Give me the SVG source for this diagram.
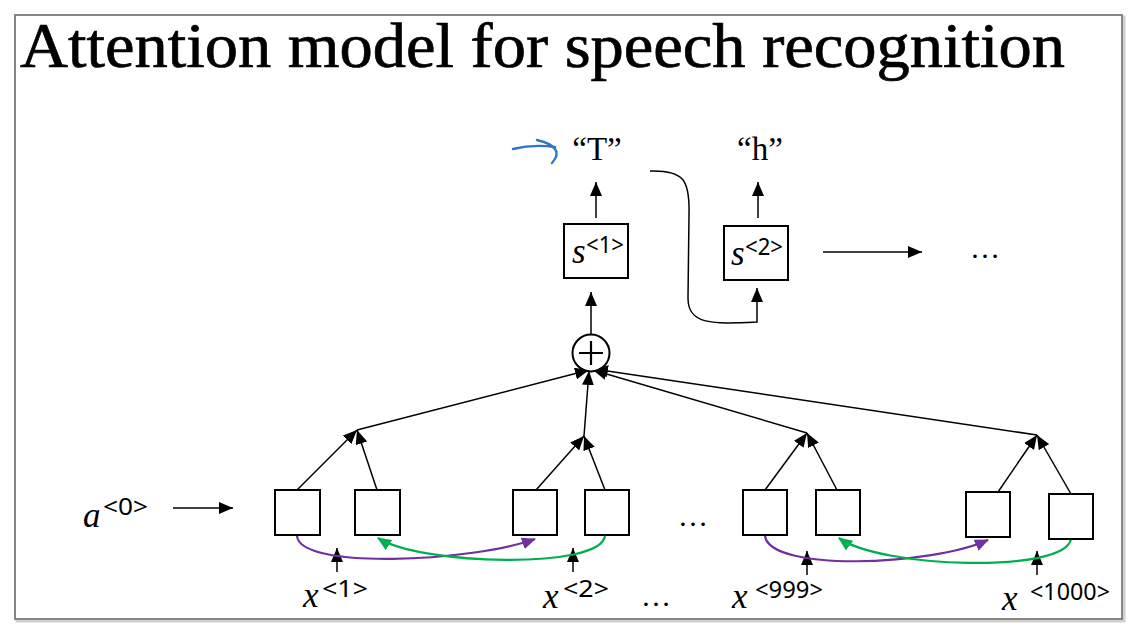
<svg xmlns="http://www.w3.org/2000/svg" width="1137" height="636" viewBox="0 0 1137 636">
<style>
.ln{stroke:#000;stroke-width:1.5;fill:none}
.box{fill:#fff;stroke:#000;stroke-width:2}
.t{font-family:"Liberation Serif",serif;fill:#000}
.v{font-family:"Liberation Serif",serif;font-style:italic;font-size:35px;fill:#000}
.sup{font-family:"Noto Sans","Liberation Sans",sans-serif;font-size:23px;fill:#000}
.pur{stroke:#7030a0;stroke-width:2.2;fill:none}
.grn{stroke:#00b050;stroke-width:2.2;fill:none}
</style>
<defs>
<marker id="ah" markerUnits="userSpaceOnUse" markerWidth="14" markerHeight="12" refX="14" refY="6" orient="auto"><path d="M0,0 L14,6 L0,12 z" fill="#000"/></marker>
<marker id="ap" markerUnits="userSpaceOnUse" markerWidth="14" markerHeight="12" refX="13" refY="6" orient="auto"><path d="M0,0 L14,6 L0,12 z" fill="#7030a0"/></marker>
<marker id="ag" markerUnits="userSpaceOnUse" markerWidth="14" markerHeight="12" refX="13" refY="6" orient="auto"><path d="M0,0 L14,6 L0,12 z" fill="#00b050"/></marker>
</defs>
<rect width="1137" height="636" fill="#fff"/>
<rect x="17" y="17" width="1107" height="604" fill="none" stroke="#d0d0d0" stroke-width="3"/>
<rect x="15" y="15" width="1107" height="604" fill="#fff" stroke="#7a7a7a" stroke-width="1.8"/>
<text class="t" x="20" y="67" font-size="64" stroke="#000" stroke-width="0.7" textLength="1045" lengthAdjust="spacingAndGlyphs">Attention model for speech recognition</text>

<g id="connectors">
<path class="ln" d="M591,334 L591,292" marker-end="url(#ah)"/>
<path class="ln" d="M596,218 L596,182" marker-end="url(#ah)"/>
<path class="ln" d="M758,218 L758,182" marker-end="url(#ah)"/>
<path class="ln" d="M823,252 L922,252" marker-end="url(#ah)"/>
<path class="ln" d="M650,171 C684,170 690,180 689,215 L688,298 C688,325 712,324 757,322 L757,288" marker-end="url(#ah)"/>
<path class="ln" d="M173,508 L233,508" marker-end="url(#ah)"/>
<path class="ln" d="M297,490 L357,430" marker-end="url(#ah)"/>
<path class="ln" d="M377,490 L357,430" marker-end="url(#ah)"/>
<path class="ln" d="M357,430 L589,370" marker-end="url(#ah)"/>
<path class="ln" d="M536,490 L584,436" marker-end="url(#ah)"/>
<path class="ln" d="M605,490 L584,436" marker-end="url(#ah)"/>
<path class="ln" d="M584,436 L589,371" marker-end="url(#ah)"/>
<path class="ln" d="M765,490 L807,433" marker-end="url(#ah)"/>
<path class="ln" d="M837,490 L807,433" marker-end="url(#ah)"/>
<path class="ln" d="M807,433 L593,370" marker-end="url(#ah)"/>
<path class="ln" d="M998,492 L1037,435" marker-end="url(#ah)"/>
<path class="ln" d="M1071,494 L1037,435" marker-end="url(#ah)"/>
<path class="ln" d="M1037,435 L594,369" marker-end="url(#ah)"/>
<path class="ln" d="M337,572 L337,548" marker-end="url(#ah)"/>
<path class="ln" d="M573,572 L573,548" marker-end="url(#ah)"/>
<path class="ln" d="M807,575 L807,551" marker-end="url(#ah)"/>
<path class="ln" d="M1037,575 L1037,551" marker-end="url(#ah)"/>
<path class="pur" d="M297,536 C300,570 470,562 535,539" marker-end="url(#ap)"/>
<path class="grn" d="M605,536 C600,570 420,565 378,538" marker-end="url(#ag)"/>
<path class="pur" d="M765,536 C770,572 930,566 988,540" marker-end="url(#ap)"/>
<path class="grn" d="M1071,539 C1065,574 880,568 839,538" marker-end="url(#ag)"/>
<path d="M513,149 Q533,144 555,147 M537,140 Q566,147 552,163" fill="none" stroke="#2e75c8" stroke-width="2.4" stroke-linecap="round"/>
</g>

<g id="out-T"><text class="t" x="597" y="160" font-size="33" text-anchor="middle">“T”</text></g>
<g id="out-h"><text class="t" x="760" y="160" font-size="33" text-anchor="middle">“h”</text></g>
<g id="s1"><rect class="box" x="564" y="224" width="64" height="54"/><text class="v" x="572" y="263">s</text><text class="sup" x="586" y="253" textLength="38" lengthAdjust="spacingAndGlyphs">&lt;1&gt;</text></g>
<g id="s2"><rect class="box" x="724" y="226" width="64" height="54"/><text class="v" x="731" y="265">s</text><text class="sup" x="745" y="255" textLength="38" lengthAdjust="spacingAndGlyphs">&lt;2&gt;</text></g>
<g id="dots-top"><text class="t" x="985" y="258" font-size="30" text-anchor="middle">…</text></g>
<g id="sum"><circle cx="591" cy="353" r="18.5" fill="#fff" stroke="#000" stroke-width="2"/><path d="M579,353 H603 M591,341 V365" stroke="#000" stroke-width="2.2"/></g>
<g id="a0"><text class="v" x="83" y="527">a</text><text class="sup" x="103" y="515" textLength="45" lengthAdjust="spacingAndGlyphs">&lt;0&gt;</text></g>
<g id="b1"><rect class="box" x="275" y="490" width="45" height="45"/></g>
<g id="b2"><rect class="box" x="355" y="490" width="45" height="45"/></g>
<g id="b3"><rect class="box" x="513" y="490" width="44" height="45"/></g>
<g id="b4"><rect class="box" x="585" y="490" width="44" height="45"/></g>
<g id="dots-mid"><text class="t" x="693" y="526" font-size="30" text-anchor="middle">…</text></g>
<g id="b5"><rect class="box" x="743" y="490" width="44" height="45"/></g>
<g id="b6"><rect class="box" x="816" y="490" width="44" height="45"/></g>
<g id="b7"><rect class="box" x="966" y="492" width="44" height="45"/></g>
<g id="b8"><rect class="box" x="1049" y="494" width="44" height="45"/></g>
<g id="x1"><text class="v" x="303" y="607">x</text><text class="sup" x="322" y="597" textLength="46" lengthAdjust="spacingAndGlyphs">&lt;1&gt;</text></g>
<g id="x2"><text class="v" x="543" y="608">x</text><text class="sup" x="563" y="597" textLength="46" lengthAdjust="spacingAndGlyphs">&lt;2&gt;</text></g>
<g id="dots-bot"><text class="t" x="656" y="606" font-size="30" text-anchor="middle">…</text></g>
<g id="x999"><text class="v" x="732" y="608">x</text><text class="sup" x="755" y="598" textLength="68" lengthAdjust="spacingAndGlyphs">&lt;999&gt;</text></g>
<g id="x1000"><text class="v" x="1002" y="610">x</text><text class="sup" x="1030" y="600" textLength="80" lengthAdjust="spacingAndGlyphs">&lt;1000&gt;</text></g>
</svg>
